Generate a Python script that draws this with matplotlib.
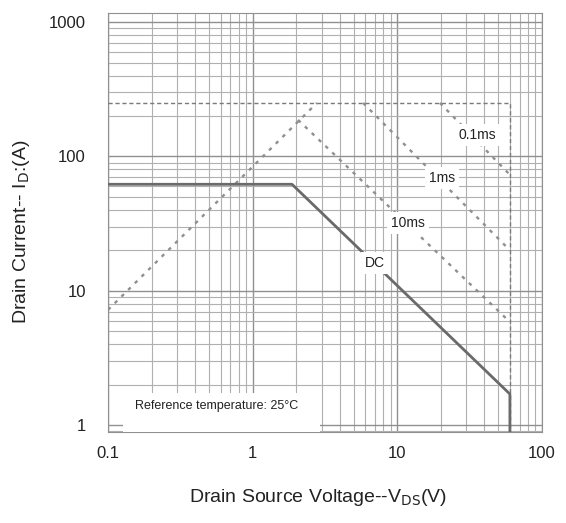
from matplotlib import pyplot as plt
from matplotlib.patches import Rectangle

# safe operating area
dc_v = [0.1, 1.87, 60, 60]
dc_i = [62, 62, 1.7, 0.5]
limit_v = [0.1, 60, 60]
limit_i = [250, 250, 0.5]
rds_v = [0.1, 2.78]
rds_i = [7.2, 250]
ms10_v = [2.06, 60]
ms10_i = [187, 5.85]
ms1_v = [5.8, 60]
ms1_i = [250, 20]
ms01_v = [19.7, 60]
ms01_i = [250, 73]

labels = ["0.1ms", "1ms", "10ms", "DC"]
label_v = [35.5, 20.3, 11.8, 7.0]
label_i = [144, 69, 31.9, 16.1]

xticks = [0.1, 1, 10, 100]
yticks = [1, 10, 100, 1000]

plt.rcParams['font.family'] = ['Liberation Sans', 'DejaVu Sans']

fig = plt.figure(figsize=(5.66, 5.23), dpi=100)
ax = fig.add_axes([108 / 566, 1 - 432 / 523, 434 / 566, 419 / 523])
ax.set_xscale('log')
ax.set_yscale('log')
ax.set_xlim(0.1, 100)
ax.set_ylim(0.887, 1169)

ax.grid(which='major', color='#909090', lw=1.0)
ax.grid(which='minor', color='#b0b0b0', lw=0.8)
ax.tick_params(which='both', length=0)
ax.tick_params(axis='x', pad=10, labelsize=12, labelcolor='#222222')
ax.tick_params(axis='y', pad=16, labelsize=12, labelcolor='#222222')
ax.set_xticks(xticks)
ax.set_xticklabels([f"{t:g}" for t in xticks])
ax.set_yticks(yticks)
ax.set_yticklabels([f"{t:g}" for t in yticks])
for s in ax.spines.values():
    s.set_color('#909090')

dot = dict(color='#909090', lw=1.7, ls=(0, (1.5, 2.5)), zorder=3)
ax.plot(limit_v, limit_i, color='#7a7a7a', lw=1.0, ls=(0, (3, 2)), zorder=3)
ax.plot(rds_v, rds_i, **dot)
ax.plot(ms10_v, ms10_i, **dot)
ax.plot(ms1_v, ms1_i, **dot)
ax.plot(ms01_v, ms01_i, **dot)
ax.plot(dc_v, dc_i, color='#6a6a6a', lw=2.0, zorder=4)

for lab, v, i in zip(labels, label_v, label_i):
    ax.text(v, i, lab, fontsize=10, ha='center', va='center', zorder=5,
            color='#222222',
            bbox=dict(facecolor='white', edgecolor='none', pad=3))

ax.add_patch(Rectangle((0.035, 0), 0.453, 0.093, transform=ax.transAxes,
                       facecolor='white', edgecolor='none', zorder=2.8))
ax.text(0.25, 0.062, "Reference temperature: 25°C", transform=ax.transAxes,
        fontsize=9, ha='center', va='center', zorder=5, color='#222222')

fig.text(318 / 566, 1 - 497 / 523, "Drain Source Voltage--V$_{\\rm DS}$(V)",
         fontsize=14, ha='center', va='center', color='#222222')
fig.text(22 / 566, 1 - 232 / 523, "Drain Current-- I$_{\\rm D}$:(A)",
         fontsize=14, ha='center', va='center', rotation=90, color='#222222')

fig.savefig("out.png", dpi=100)
